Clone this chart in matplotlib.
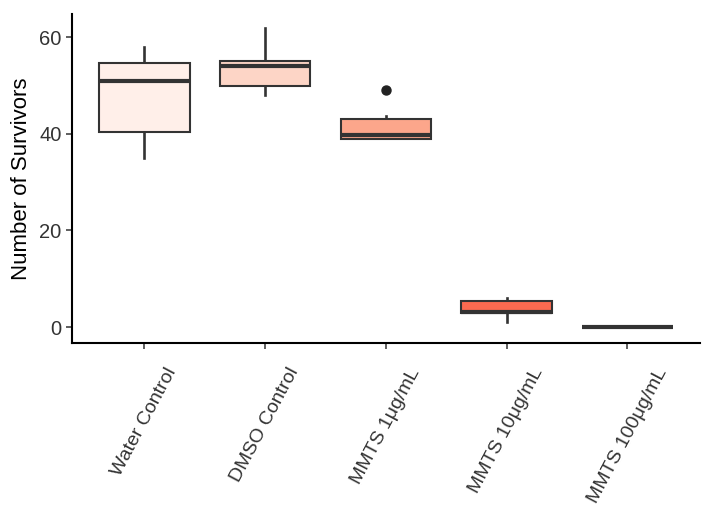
import matplotlib
matplotlib.use("Agg")
import matplotlib.pyplot as plt

categories = ["Water Control", "DMSO Control", "MMTS 1\u03bcg/mL", "MMTS 10\u03bcg/mL", "MMTS 100\u03bcg/mL"]
whislo = [35, 48, 39, 1, 0]
q1 = [40.3, 49.8, 39, 3, 0]
med = [51, 54, 39.8, 3.2, 0]
q3 = [54.7, 55, 43, 5.3, 0]
whishi = [58, 62, 43.7, 6, 0]
outliers = [[], [], [49], [], []]
fills = ["#FFEFE9", "#FDD5C6", "#FCA68B", "#FC6A50", "#DE2D26"]

plt.rcParams['font.family'] = ['Liberation Sans', 'DejaVu Sans']

fig = plt.figure(figsize=(7.17, 5.12), dpi=100)
ax = fig.add_axes([0.1004, 0.330, 0.8756, 0.6427])

stats = []
for i, c in enumerate(categories):
    stats.append(dict(label=c, whislo=whislo[i], q1=q1[i], med=med[i], q3=q3[i],
                      whishi=whishi[i], fliers=outliers[i]))

edge = "#333333"
bp = ax.bxp(stats, positions=range(len(categories)), widths=0.75, patch_artist=True,
            showcaps=False,
            boxprops=dict(edgecolor=edge, linewidth=1.5, zorder=3),
            whiskerprops=dict(color=edge, linewidth=1.9, zorder=2),
            medianprops=dict(color=edge, linewidth=3.0, solid_capstyle='butt', zorder=4),
            flierprops=dict(marker='o', markerfacecolor='#222222', markeredgecolor='#222222',
                            markersize=6.5))
for patch, col in zip(bp['boxes'], fills):
    patch.set_facecolor(col)

ax.set_xlim(-0.6, 4.6)
ax.set_ylim(-3.3, 64.8)
ax.set_yticks([0, 20, 40, 60])
ax.set_xticks(range(len(categories)))
ax.set_xticklabels(categories, rotation=62, ha='center', va='top', fontsize=14, color='#333333')
ax.tick_params(axis='y', labelsize=14.5, labelcolor='#333333', color='#333333', length=4, width=1.1)
ax.tick_params(axis='x', color='#333333', length=4, width=1.1, pad=12)
for s in ['top', 'right']:
    ax.spines[s].set_visible(False)
for s in ['left', 'bottom']:
    ax.spines[s].set_linewidth(1.5)
    ax.spines[s].set_color('black')
ax.set_ylabel("Number of Survivors", fontsize=16, color='black', labelpad=5)

fig.savefig("out.png", dpi=100)
